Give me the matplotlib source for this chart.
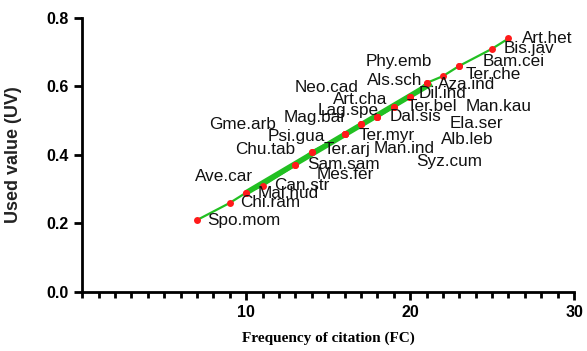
import numpy as np
import matplotlib.pyplot as plt
from matplotlib.ticker import MultipleLocator

# species, frequency of citation and used value
species = ['Spo.mom', 'Chi.ram', 'Mal.hud', 'Ave.car', 'Can.str', 'Sam.sam', 'Mes.fer',
           'Chu.tab', 'Ter.arj', 'Psi.gua', 'Gme.arb', 'Man.ind', 'Syz.cum', 'Ter.myr',
           'Mag.bai', 'Alb.leb', 'Lag.spe', 'Dal.sis', 'Art.cha', 'Ela.ser', 'Ter.bel',
           'Man.kau', 'Neo.cad', 'Dil.ind', 'Als.sch', 'Phy.emb', 'Aza.ind', 'Ter.che',
           'Bam.cei', 'Bis.jav', 'Art.het']
fc = [7, 9, 10, 10, 11, 13, 13, 14, 14, 16, 16, 16, 16, 17, 17, 17, 18, 18, 18, 19, 19,
      20, 20, 20, 21, 21, 22, 23, 23, 25, 26]
uv = [0.21, 0.26, 0.29, 0.29, 0.31, 0.37, 0.37, 0.41, 0.41, 0.46, 0.46, 0.46, 0.46, 0.49,
      0.49, 0.49, 0.51, 0.51, 0.51, 0.54, 0.54, 0.57, 0.57, 0.57, 0.61, 0.61, 0.63, 0.66,
      0.66, 0.71, 0.74]

# where each label sits (data coords, left edge / vertical centre)
label_pos = {
    'Art.het': (26.8, 0.739), 'Bis.jav': (25.7, 0.71), 'Bam.cei': (24.4, 0.674),
    'Phy.emb': (17.3, 0.674), 'Ter.che': (23.4, 0.634), 'Als.sch': (17.35, 0.616),
    'Aza.ind': (21.7, 0.607), 'Neo.cad': (12.95, 0.596), 'Dil.ind': (20.5, 0.578),
    'Art.cha': (15.3, 0.563), 'Lag.spe': (14.35, 0.531), 'Ter.bel': (19.8, 0.54),
    'Man.kau': (23.4, 0.54), 'Mag.bai': (12.3, 0.508), 'Dal.sis': (18.75, 0.511),
    'Ela.ser': (22.4, 0.493), 'Gme.arb': (7.75, 0.488), 'Psi.gua': (11.3, 0.455),
    'Ter.myr': (16.85, 0.458), 'Alb.leb': (21.9, 0.444), 'Man.ind': (17.8, 0.42),
    'Chu.tab': (9.3, 0.417), 'Ter.arj': (14.7, 0.415), 'Syz.cum': (20.35, 0.38),
    'Sam.sam': (13.7, 0.371), 'Mes.fer': (14.3, 0.342), 'Ave.car': (6.85, 0.336),
    'Can.str': (11.7, 0.312), 'Mal.hud': (10.7, 0.289), 'Chi.ram': (9.65, 0.26),
    'Spo.mom': (7.65, 0.21),
}

fig = plt.figure(figsize=(5.87, 3.51), dpi=100)
ax = fig.add_axes([0.14, 0.168, 0.838, 0.781])

green = '#22c022'
ax.plot(fc, uv, color=green, lw=1.6, zorder=2)
# fitted line, drawn thick over the middle range
k, b = np.polyfit(fc, uv, 1)
xs = np.array([10, 21.3])
ax.plot(xs, k * xs + b, color=green, lw=4, zorder=2, solid_capstyle='butt')
ax.plot(fc, uv, 'o', color='#ff1a1a', ms=5, mec='none', zorder=3)

for s in species:
    lx, ly = label_pos[s]
    ax.text(lx, ly, s, fontsize=12.3, family='Liberation Sans', color='#111111',
            va='center', ha='left', zorder=4)

ax.set_xlim(0, 30)
ax.set_ylim(0, 0.8)
ax.set_xticks([10, 20, 30])
ax.xaxis.set_minor_locator(MultipleLocator(1))
ax.set_yticks([0, 0.2, 0.4, 0.6, 0.8])
ax.set_yticklabels(['0.0', '0.2', '0.4', '0.6', '0.8'])

for sp in ['top', 'right']:
    ax.spines[sp].set_visible(False)
for sp in ['left', 'bottom']:
    ax.spines[sp].set_linewidth(2)
ax.tick_params(which='major', length=6, width=2, labelsize=11.5)
ax.tick_params(which='minor', length=4, width=2)
ax.tick_params(axis='y', which='minor', left=False)
for lab in ax.get_xticklabels() + ax.get_yticklabels():
    lab.set_fontweight('bold')
    lab.set_family('Liberation Sans')

ax.set_ylabel('Used value (UV)', fontsize=13, fontweight='bold', family='Liberation Sans',
              color='#222222')
ax.yaxis.set_label_coords(-0.123, 0.5)
ax.set_xlabel('Frequency of citation (FC)', fontsize=11, fontweight='bold',
              family='Liberation Serif', labelpad=8)

fig.savefig('out.png', dpi=100)
